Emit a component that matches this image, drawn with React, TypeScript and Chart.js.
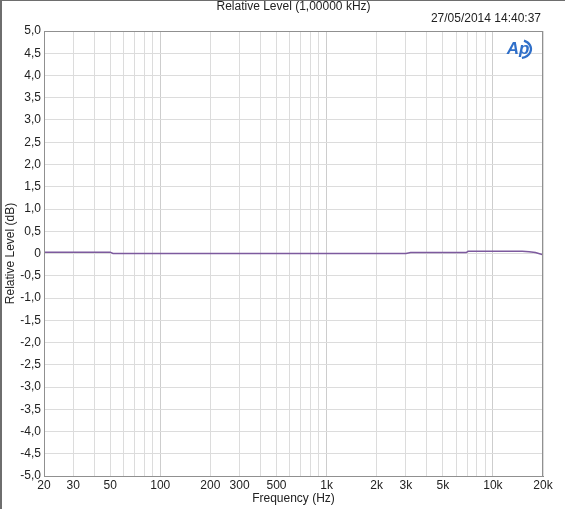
import { useRef, useEffect } from 'react';
import { Chart, registerables } from 'chart.js';

Chart.register(...registerables);

// Measured response (Hz -> dB relative to 1 kHz)
const frequencies = [20, 30, 40, 50, 52, 100, 300, 1000, 3000, 3200, 5000, 6900, 7100, 10000, 15000, 16500, 18000, 20000];
const levels = [0.03, 0.03, 0.03, 0.03, 0.0, 0.0, 0.0, 0.0, 0.0, 0.02, 0.02, 0.02, 0.05, 0.05, 0.05, 0.04, 0.02, -0.03];

const gridFreqs = [
  20, 30, 40, 50, 60, 70, 80, 90,
  100, 200, 300, 400, 500, 600, 700, 800, 900,
  1000, 2000, 3000, 4000, 5000, 6000, 7000, 8000, 9000,
  10000, 20000,
];
const labelledFreqs: Record<number, string> = {
  20: '20', 30: '30', 50: '50', 100: '100', 200: '200', 300: '300', 500: '500',
  1000: '1k', 2000: '2k', 3000: '3k', 5000: '5k', 10000: '10k', 20000: '20k',
};

const chartTitle = 'Relative Level (1,00000 kHz)';
const timestamp = '27/05/2014 14:40:37';
const xTitle = 'Frequency (Hz)';
const yTitle = 'Relative Level (dB)';

const FONT = '"Liberation Sans", Arial, sans-serif';

const decorPlugin = {
  id: 'apDecor',
  beforeDraw(chart: Chart) {
    const { ctx, width, height } = chart;
    ctx.save();
    ctx.fillStyle = '#ffffff';
    ctx.fillRect(0, 0, width, height);
    ctx.restore();
  },
  afterDraw(chart: Chart) {
    const { ctx, chartArea } = chart;
    ctx.save();
    // window edge
    ctx.fillStyle = '#6e6e6e';
    ctx.fillRect(0, 0, chart.width, 1);
    ctx.fillRect(0, 0, 2, chart.height);

    // plot frame
    ctx.strokeStyle = '#909090';
    ctx.lineWidth = 1;
    ctx.strokeRect(chartArea.left + 0.5, chartArea.top + 0.5, chartArea.right - chartArea.left - 1, chartArea.bottom - chartArea.top);

    ctx.fillStyle = '#222';
    ctx.font = `12px ${FONT}`;
    ctx.textBaseline = 'middle';
    ctx.textAlign = 'center';
    ctx.fillText(chartTitle, (chartArea.left + chartArea.right) / 2, 7);
    ctx.textAlign = 'right';
    ctx.fillText(timestamp, chartArea.right - 2, 19);

    // AP logo
    const lx = chartArea.right - 23;
    const ly = 49;
    ctx.fillStyle = '#2f6fc9';
    ctx.font = `italic bold 17px ${FONT}`;
    ctx.textAlign = 'center';
    ctx.fillText('Ap', lx - 2, ly);
    ctx.strokeStyle = '#2f6fc9';
    ctx.lineWidth = 2.2;
    ctx.beginPath();
    ctx.ellipse(lx, ly, 11, 9, 0, -1.2, 1.4);
    ctx.stroke();
    ctx.restore();
  },
};

export default function App() {
  const canvasRef = useRef<HTMLCanvasElement>(null);

  useEffect(() => {
    if (!canvasRef.current) return;
    const ctx = canvasRef.current.getContext('2d');
    if (!ctx) return;

    const chart = new Chart(ctx, {
      type: 'line',
      data: {
        datasets: [{
          data: frequencies.map((f, i) => ({ x: f, y: levels[i] })),
          borderColor: '#7d5a9e',
          borderWidth: 1.5,
          pointRadius: 0,
          tension: 0,
          fill: false,
        }],
      },
      options: {
        responsive: false,
        animation: false,
        layout: { padding: { top: 31, right: 22, left: 0, bottom: 0 } },
        plugins: {
          legend: { display: false },
          tooltip: { enabled: false },
        },
        scales: {
          x: {
            type: 'logarithmic',
            min: 20,
            max: 20000,
            afterBuildTicks: (scale: any) => {
              scale.ticks = gridFreqs.map(v => ({ value: v }));
            },
            afterFit: (scale: any) => { scale.height = 33; },
            ticks: {
              autoSkip: false,
              maxRotation: 0,
              padding: 2,
              color: '#222',
              font: { family: FONT, size: 12 },
              callback: (v: any) => labelledFreqs[Number(v)] ?? '',
            },
            grid: {
              color: (c: any) => [100, 1000, 10000].includes(c.tick?.value) ? '#cdcdcd' : '#dcdcdc',
              drawTicks: false,
            },
            border: { color: '#8a8a8a' },
            title: {
              display: true,
              text: xTitle,
              color: '#222',
              font: { family: FONT, size: 12 },
              padding: { top: 0, bottom: 3 },
            },
          },
          y: {
            type: 'linear',
            min: -5,
            max: 5,
            afterFit: (scale: any) => { scale.width = 44; },
            ticks: {
              stepSize: 0.5,
              padding: 3,
              color: '#222',
              font: { family: FONT, size: 12 },
              callback: (v: any) => {
                const n = Number(v);
                if (Math.abs(n) < 1e-9) return '0';
                return n.toFixed(1).replace('.', ',');
              },
            },
            grid: { color: '#dcdcdc', drawTicks: false },
            border: { color: '#8a8a8a' },
            title: {
              display: true,
              text: yTitle,
              color: '#222',
              font: { family: FONT, size: 12 },
              padding: { top: 3, bottom: 0 },
            },
          },
        },
      },
      plugins: [decorPlugin],
    });
    return () => { chart.destroy(); };
  }, []);

  return (
    <div style={{ position: 'fixed', left: 0, top: 0, width: 565, height: 509, background: '#fff' }}>
      <canvas ref={canvasRef} width={565} height={509} />
    </div>
  );
}
